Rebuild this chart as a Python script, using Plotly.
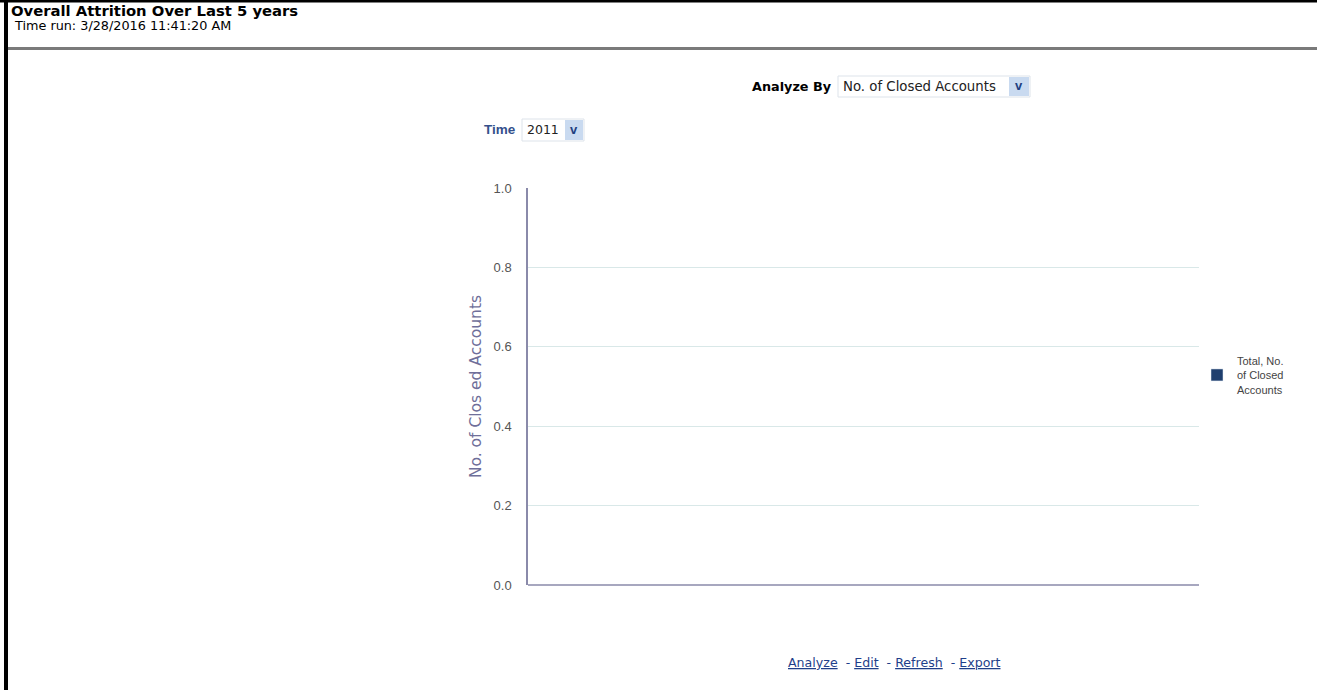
import plotly.graph_objects as go

W, H = 1317, 690

# ---- data ----
categories = ["2011"]
closed_accounts = [None]
series_name = "Total, No.<br>of Closed<br>Accounts"
y_ticks = [0.0, 0.2, 0.4, 0.6, 0.8, 1.0]
y_tick_labels = ["0.0", "0.2", "0.4", "0.6", "0.8", "1.0"]

def px(x):
    return x / W

def py(y):
    return 1 - y / H

fig = go.Figure()
fig.add_trace(go.Bar(x=categories, y=closed_accounts, name=series_name,
                     marker_color="#1f3f6e", showlegend=True))

FONT = "Liberation Sans, Arial, sans-serif"
UI = "DejaVu Sans, Verdana, sans-serif"

fig.update_layout(
    width=W, height=H,
    margin=dict(l=0, r=0, t=0, b=0, autoexpand=False),
    paper_bgcolor="white", plot_bgcolor="white",
    font=dict(family=FONT, size=12, color="#444"),
    xaxis=dict(domain=[px(528), px(1199)], showticklabels=False, ticks="",
               showgrid=False, zeroline=False, showline=False,
               fixedrange=True, automargin=False),
    yaxis=dict(domain=[py(585), py(188)], range=[0, 1], automargin=False,
               tickvals=y_ticks, ticktext=y_tick_labels,
               showgrid=True, gridcolor="#d9e8e8", gridwidth=1,
               zeroline=False, showline=True, linecolor="#8a8aaa", linewidth=1.5,
               ticks="", ticklen=0, ticklabelstandoff=12,
               tickfont=dict(family=FONT, size=13, color="#555"),
               title=dict(text="No. of Clos ed Accounts", standoff=8,
                          font=dict(family=UI, size=15.5, color="#6f6f9a"))),
    showlegend=True,
    legend=dict(x=px(1197), y=py(375), xanchor="left", yanchor="middle",
                font=dict(family=FONT, size=11, color="#444"),
                bgcolor="rgba(0,0,0,0)", itemwidth=30),
    bargap=0.3,
)

shapes = []
# page frame
shapes.append(dict(type="rect", xref="paper", yref="paper", x0=0, x1=1, y0=py(2.5), y1=1,
                   fillcolor="black", line_width=0, layer="above"))
shapes.append(dict(type="rect", xref="paper", yref="paper", x0=px(4), x1=px(8), y0=0, y1=1,
                   fillcolor="black", line_width=0, layer="above"))
# header separator
shapes.append(dict(type="rect", xref="paper", yref="paper", x0=px(8), x1=1, y0=py(50), y1=py(47),
                   fillcolor="#7a7a7a", line_width=0, layer="above"))
# x axis line (bottom)
shapes.append(dict(type="line", xref="paper", yref="paper", x0=px(528), x1=px(1199),
                   y0=py(585), y1=py(585), line=dict(color="#8a8aaa", width=1.5), layer="above"))
# Analyze By dropdown
shapes.append(dict(type="rect", xref="paper", yref="paper", x0=px(838), x1=px(1030), y0=py(97), y1=py(76),
                   fillcolor="white", line=dict(color="#dde3ea", width=1)))
shapes.append(dict(type="rect", xref="paper", yref="paper", x0=px(1009), x1=px(1029), y0=py(96), y1=py(77),
                   fillcolor="#c9daf0", line_width=0))
# Time dropdown
shapes.append(dict(type="rect", xref="paper", yref="paper", x0=px(522), x1=px(584), y0=py(141), y1=py(119),
                   fillcolor="white", line=dict(color="#dde3ea", width=1)))
shapes.append(dict(type="rect", xref="paper", yref="paper", x0=px(565), x1=px(583), y0=py(140), y1=py(120),
                   fillcolor="#c9daf0", line_width=0))
fig.update_layout(shapes=shapes)

ann = []
def text(x, y, s, size, color="#000", anchor="left", family=UI):
    ann.append(dict(x=px(x), y=py(y), xref="paper", yref="paper", text=s, showarrow=False,
                    xanchor=anchor, yanchor="middle",
                    font=dict(family=family, size=size, color=color)))

text(9, 11, "<b>Overall Attrition Over Last 5 years</b>", 14.8, "#000")
text(12, 25, "Time run: 3/28/2016 11:41:20 AM", 12.8, "#000")
text(834, 86, "<b>Analyze By</b>", 12.8, "#000", "right")
text(841, 86, "No. of Closed Accounts", 13.3, "#222")
text(1019, 85, "<b>v</b>", 13, "#1f3f80", "center", FONT)
text(518, 130, "<b>Time</b>", 13.5, "#34508c", "right", FONT)
text(525, 130, "2011", 12.5, "#222")
text(574, 129, "<b>v</b>", 13, "#1f3f80", "center", FONT)
text(894, 662, "<u>Analyze</u>  - <u>Edit</u>  - <u>Refresh</u>  - <u>Export</u>", 12.6, "#1f3f8a", "center")
fig.update_layout(annotations=ann)

fig.write_html("out.html", config={"displayModeBar": False},
               post_script="document.body.style.margin='0';document.body.style.overflow='hidden';")
